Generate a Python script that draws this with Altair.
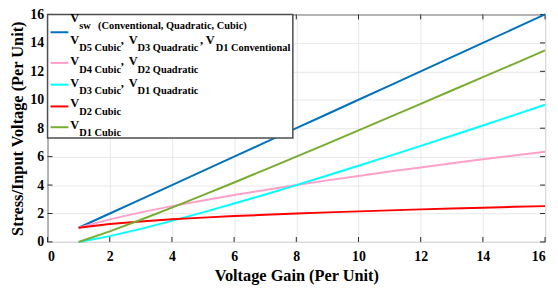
import altair as alt
import pandas as pd

# ---------------- data ----------------
gain = [1, 2, 3, 4, 5, 6, 7, 8, 9, 10, 11, 12, 13, 14, 15, 16]
v_sw = [1, 2, 3, 4, 5, 6, 7, 8, 9, 10, 11, 12, 13, 14, 15, 16]
v_d4 = [1.00, 1.59, 2.08, 2.52, 2.92, 3.30, 3.66, 4.00, 4.33, 4.64, 4.95, 5.24, 5.53, 5.81, 6.08, 6.35]
v_d3 = [0.00, 0.41, 0.92, 1.48, 2.08, 2.70, 3.34, 4.00, 4.67, 5.36, 6.05, 6.76, 7.47, 8.19, 8.92, 9.65]
v_d2 = [1.00, 1.26, 1.44, 1.59, 1.71, 1.82, 1.91, 2.00, 2.08, 2.15, 2.22, 2.29, 2.35, 2.41, 2.47, 2.52]
v_d1 = [0.00, 0.74, 1.56, 2.41, 3.29, 4.18, 5.09, 6.00, 6.92, 7.85, 8.78, 9.71, 10.65, 11.59, 12.53, 13.48]

series_names = ["sw", "d4", "d3", "d2", "d1"]
series_values = [v_sw, v_d4, v_d3, v_d2, v_d1]
series_colors = ["#0072BD", "#FFA0CA", "#00FFFF", "#FF0000", "#77AC30"]

x_ticks = [0, 2, 4, 6, 8, 10, 12, 14, 16]
y_ticks = [0, 2, 4, 6, 8, 10, 12, 14, 16]

x_title = "Voltage Gain (Per Unit)"
y_title = "Stress/Input Voltage (Per Unit)"

# legend label pieces: (main letter, subscript) groups per row
legend_rows = [
    [("V", "sw"), ("", "(Conventional, Quadratic, Cubic)")],
    [("V", "D5 Cubic"), ("V", "D3 Quadratic"), ("V", "D1 Conventional")],
    [("V", "D4 Cubic"), ("V", "D2 Quadratic")],
    [("V", "D3 Cubic"), ("V", "D1 Quadratic")],
    [("V", "D2 Cubic")],
    [("V", "D1 Cubic")],
]

# ---------------- layout ----------------
W, H = 503, 230
TOP = 5
LEFT = 40
FONT = "Times New Roman, Liberation Serif, serif"
MAIN_SIZE = 12.5
SUB_SIZE = 10.5

x_scale = alt.Scale(domain=[0, 16], nice=False)
y_scale = alt.Scale(domain=[0, 16], nice=False)
x_axis = alt.Axis(values=x_ticks, title=x_title, grid=True, ticks=False,
                  domain=False, labelPadding=8, titlePadding=4,
                  labelOverlap=False, format="d")
y_axis = alt.Axis(values=y_ticks, title=y_title, grid=True, ticks=False,
                  domain=False, labelPadding=4, titlePadding=4,
                  labelOverlap=False, format="d")


def X(field):
    return alt.X(field, scale=x_scale, axis=x_axis, title=x_title)


def Y(field):
    return alt.Y(field, scale=y_scale, axis=y_axis, title=y_title)


layers = []

# inward tick marks on all four sides
xt = pd.DataFrame({"t": x_ticks})
yt = pd.DataFrame({"t": y_ticks})
tick_color = "#262626"
layers.append(alt.Chart(xt).mark_rule(color=tick_color, strokeWidth=1).encode(
    x=X("t:Q"), y=alt.value(H), y2=alt.value(H - 5)))
layers.append(alt.Chart(xt).mark_rule(color=tick_color, strokeWidth=1).encode(
    x=X("t:Q"), y=alt.value(0), y2=alt.value(5)))
layers.append(alt.Chart(yt).mark_rule(color=tick_color, strokeWidth=1).encode(
    y=Y("t:Q"), x=alt.value(0), x2=alt.value(5)))
layers.append(alt.Chart(yt).mark_rule(color=tick_color, strokeWidth=1).encode(
    y=Y("t:Q"), x=alt.value(W), x2=alt.value(W - 5)))

# data lines
for name, vals, col in zip(series_names, series_values, series_colors):
    df = pd.DataFrame({"gain": gain, "val": vals})
    layers.append(alt.Chart(df).mark_line(color=col, strokeWidth=2).encode(
        x=X("gain:Q"), y=Y("val:Q")))

# ---------------- custom legend ----------------
dy = -3
box_df = pd.DataFrame({"k": [0]})
layers.append(alt.Chart(box_df).mark_rect(fill="white", stroke="#4d4d4d",
                                          strokeWidth=1.5).encode(
    x=alt.value(0), x2=alt.value(248), y=alt.value(0), y2=alt.value(128 + dy)))

swatch_y = [21 + dy, 52 + dy, 74 + dy, 96 + dy, 117 + dy]
sw_df = pd.DataFrame({"y": swatch_y, "c": series_colors})
layers.append(alt.Chart(sw_df).mark_rule(strokeWidth=2).encode(
    x=alt.value(3), x2=alt.value(21),
    y=alt.Y("y:Q", scale=None),
    color=alt.Color("c:N", scale=None, legend=None)))

row_main_base = [v + dy for v in [11, 33, 54, 76, 97, 119]]
row_sub_base = [v + dy for v in [18, 40, 62, 83, 105, 126]]
group_x = [23, 82, 160]
group_sub_x = [32, 91, 170]
comma_x = [74, 154]

txt = []
for r, row in enumerate(legend_rows):
    for g, (main, sub) in enumerate(row):
        if r == 0 and g == 1:
            txt.append((sub, 51, row_sub_base[r], SUB_SIZE))
            continue
        txt.append((main, group_x[g], row_main_base[r], MAIN_SIZE))
        txt.append((sub, group_sub_x[g], row_sub_base[r], SUB_SIZE))
        if g < len(row) - 1 and r > 0:
            txt.append((",", comma_x[g], row_main_base[r], MAIN_SIZE))
txt_df = pd.DataFrame(txt, columns=["text", "px", "py", "sz"])
layers.append(alt.Chart(txt_df).mark_text(
    align="left", baseline="alphabetic", font=FONT, fontWeight="bold",
    color="black").encode(
    x=alt.X("px:Q", scale=None),
    y=alt.Y("py:Q", scale=None),
    size=alt.Size("sz:Q", scale=None, legend=None),
    text="text:N"))

chart = alt.layer(*layers).properties(
    width=W, height=H,
    autosize=alt.AutoSizeParams(type="none"),
    padding={"left": LEFT, "top": TOP, "right": 5, "bottom": 42},
).configure_view(
    stroke="black", strokeWidth=1
).configure_axis(
    labelFont=FONT, labelFontWeight="bold", labelFontSize=14, labelColor="black",
    titleFont=FONT, titleFontWeight="bold", titleFontSize=16.5, titleColor="black",
    gridColor="#e8e8e8", gridWidth=1,
)

chart.save("out.html", embed_options={"renderer": "svg", "actions": False})
